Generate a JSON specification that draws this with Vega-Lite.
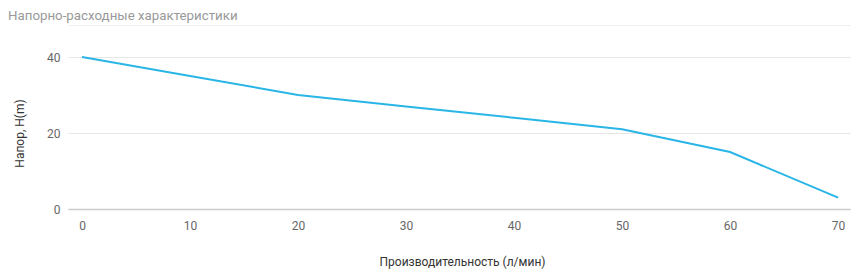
{
  "$schema": "https://vega.github.io/schema/vega-lite/v6.json",
  "width": 782,
  "height": 152,
  "autosize": "none",
  "padding": {"left": 68, "top": 57, "right": 13, "bottom": 68},
  "background": "white",
  "title": {
    "text": "Напорно-расходные характеристики",
    "anchor": "start",
    "frame": "group",
    "dx": -60,
    "offset": 3,
    "font": "Roboto",
    "fontSize": 13.3,
    "fontWeight": "normal",
    "color": "#999999"
  },
  "config": {
    "view": {"stroke": null},
    "font": "Roboto"
  },
  "data": {
    "values": [
      {"q": 0, "h": 40},
      {"q": 10, "h": 35},
      {"q": 20, "h": 30},
      {"q": 30, "h": 27},
      {"q": 40, "h": 24},
      {"q": 50, "h": 21},
      {"q": 60, "h": 15},
      {"q": 70, "h": 3}
    ]
  },
  "layer": [
    {
      "mark": {"type": "line", "color": "#29b6e6", "strokeWidth": 2, "interpolate": "linear"},
      "encoding": {
        "x": {
          "field": "q",
          "type": "quantitative",
          "scale": {"domain": [-1.3, 71.1], "nice": false, "zero": false},
          "axis": {
            "values": [0, 10, 20, 30, 40, 50, 60, 70],
            "title": "Производительность (л/мин)",
            "titleFont": "Roboto",
            "titleFontSize": 12,
            "titleFontWeight": "normal",
            "titleColor": "#333333",
            "titlePadding": 25,
            "titleX": 394,
            "labelFont": "Roboto",
            "labelFontSize": 12,
            "labelColor": "#666666",
            "labelPadding": 11,
            "ticks": false,
            "grid": false,
            "domainColor": "#cccccc",
            "domainWidth": 1.5
          }
        },
        "y": {
          "field": "h",
          "type": "quantitative",
          "scale": {"domain": [0, 40], "nice": false},
          "axis": {
            "values": [0, 20, 40],
            "title": "Напор, H(m)",
            "titleFont": "Roboto",
            "titleFontSize": 12,
            "titleFontWeight": "normal",
            "titleColor": "#333333",
            "titlePadding": 20,
            "labelFont": "Roboto",
            "labelFontSize": 12,
            "labelColor": "#666666",
            "labelPadding": 8,
            "ticks": false,
            "domain": false,
            "gridColor": "#e6e6e6",
            "gridWidth": 1
          }
        }
      }
    },
    {
      "mark": {"type": "line", "opacity": 0},
      "encoding": {
        "x": {
          "field": "q",
          "type": "quantitative",
          "axis": {
            "orient": "top",
            "title": null,
            "labels": false,
            "ticks": false,
            "grid": false,
            "domainColor": "#eeeeee",
            "domainWidth": 1,
            "offset": 32
          }
        },
        "y": {"field": "h", "type": "quantitative"}
      }
    }
  ],
  "resolve": {"axis": {"x": "independent"}}
}
